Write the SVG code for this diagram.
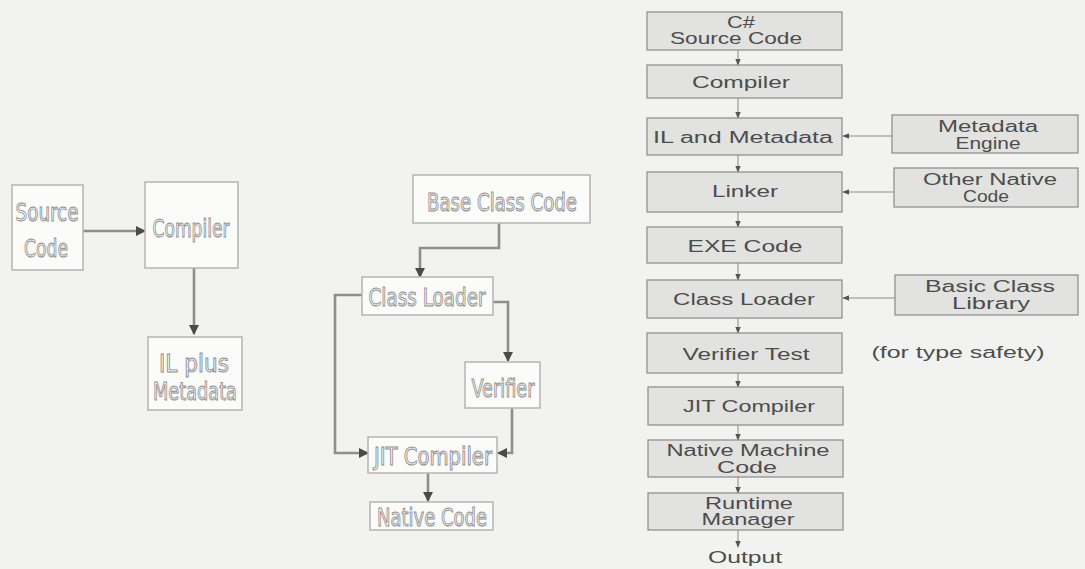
<svg xmlns="http://www.w3.org/2000/svg" width="1085" height="569" viewBox="0 0 1085 569">
<defs>
<style>
.lbox{fill:#fbfbfa;stroke:#b8b8b8;stroke-width:1.6}
.ltxt{font-family:"DejaVu Sans Condensed","Liberation Sans Narrow","DejaVu Sans",sans-serif;font-size:25px;fill:#f7f7f7;stroke:#8c8c8c;stroke-width:0.9;text-anchor:middle}
.rbox{fill:#e2e2e0;stroke:#8a8a8a;stroke-width:1.2}
.rtxt{font-family:"Liberation Sans",Arial,sans-serif;font-size:16px;fill:#4d4d4d;text-anchor:middle}
.lcon{fill:none;stroke:#8e8e8e;stroke-width:2.6}
.rcon{fill:none;stroke:#8a8a8a;stroke-width:1}
</style>
<marker id="la" viewBox="0 0 10 10" refX="9" refY="5" markerWidth="4" markerHeight="4" orient="auto" markerUnits="strokeWidth"><path d="M0,0 L10,5 L0,10 z" fill="#4a4a4a"/></marker>
<marker id="ra" viewBox="0 0 10 10" refX="9" refY="5" markerWidth="7" markerHeight="7" orient="auto" markerUnits="strokeWidth"><path d="M0,1 L10,5 L0,9 z" fill="#555"/></marker>
</defs>
<rect width="1085" height="569" fill="#f2f2f0"/>

<g id="connectors">
<path class="lcon" marker-end="url(#la)" d="M83,231 L145,231"/>
<path class="lcon" marker-end="url(#la)" d="M194,268 L194,334"/>
<path class="lcon" marker-end="url(#la)" d="M499,223 L499,248 L420,248 L420,277"/>
<path class="lcon" marker-end="url(#la)" d="M493,302 L508,302 L508,361"/>
<path class="lcon" marker-end="url(#la)" d="M512,408 L512,453 L498,453"/>
<path class="lcon" marker-end="url(#la)" d="M362,295 L335,295 L335,453 L368,453"/>
<path class="lcon" marker-end="url(#la)" d="M428,473 L428,501"/>
<path class="rcon" marker-end="url(#ra)" d="M738,50 L738,65"/>
<path class="rcon" marker-end="url(#ra)" d="M738,98 L738,118"/>
<path class="rcon" marker-end="url(#ra)" d="M738,155 L738,172"/>
<path class="rcon" marker-end="url(#ra)" d="M738,212 L738,227"/>
<path class="rcon" marker-end="url(#ra)" d="M738,263 L738,280"/>
<path class="rcon" marker-end="url(#ra)" d="M738,318 L738,333"/>
<path class="rcon" marker-end="url(#ra)" d="M738,373 L738,387"/>
<path class="rcon" marker-end="url(#ra)" d="M738,425 L738,440"/>
<path class="rcon" marker-end="url(#ra)" d="M738,477 L738,493"/>
<path class="rcon" marker-end="url(#ra)" d="M738,530 L738,547"/>
<path class="rcon" marker-end="url(#ra)" d="M892,136 L843,136"/>
<path class="rcon" marker-end="url(#ra)" d="M894,192 L843,192"/>
<path class="rcon" marker-end="url(#ra)" d="M895,298 L843,298"/>
</g>

<g id="source-code"><rect class="lbox" x="12" y="185" width="71" height="85"/><text class="ltxt" x="47" y="221" textLength="63" lengthAdjust="spacingAndGlyphs">Source</text><text class="ltxt" x="46" y="257" textLength="44" lengthAdjust="spacingAndGlyphs">Code</text></g>
<g id="compiler-l"><rect class="lbox" x="145" y="182" width="93" height="86"/><text class="ltxt" x="191" y="237" textLength="77" lengthAdjust="spacingAndGlyphs">Compiler</text></g>
<g id="il-plus-metadata"><rect class="lbox" x="148" y="337" width="94" height="73"/><text class="ltxt" x="194" y="372" textLength="70" lengthAdjust="spacingAndGlyphs">IL plus</text><text class="ltxt" x="195" y="400" textLength="84" lengthAdjust="spacingAndGlyphs">Metadata</text></g>

<g id="base-class-code"><rect class="lbox" x="413" y="175" width="177" height="48"/><text class="ltxt" x="502" y="211" textLength="150" lengthAdjust="spacingAndGlyphs">Base Class Code</text></g>
<g id="class-loader-m"><rect class="lbox" x="362" y="277" width="131" height="38"/><text class="ltxt" x="427" y="306" textLength="117" lengthAdjust="spacingAndGlyphs">Class Loader</text></g>
<g id="verifier"><rect class="lbox" x="465" y="362" width="75" height="46"/><text class="ltxt" x="503" y="397" textLength="63" lengthAdjust="spacingAndGlyphs">Verifier</text></g>
<g id="jit-compiler-m"><rect class="lbox" x="368" y="437" width="129" height="36"/><text class="ltxt" x="433" y="465" textLength="118" lengthAdjust="spacingAndGlyphs">JIT Compiler</text></g>
<g id="native-code"><rect class="lbox" x="370" y="502" width="123" height="28"/><text class="ltxt" x="432" y="526" textLength="110" lengthAdjust="spacingAndGlyphs">Native Code</text></g>

<g id="cs-source"><rect class="rbox" x="647" y="12" width="195" height="38"/><text class="rtxt" x="741" y="28" textLength="28" lengthAdjust="spacingAndGlyphs">C#</text><text class="rtxt" x="736" y="44" textLength="132" lengthAdjust="spacingAndGlyphs">Source Code</text></g>
<g id="compiler-r"><rect class="rbox" x="647" y="65" width="195" height="33"/><text class="rtxt" x="741" y="88" textLength="98" lengthAdjust="spacingAndGlyphs">Compiler</text></g>
<g id="il-metadata"><rect class="rbox" x="647" y="118" width="195" height="37"/><text class="rtxt" x="743" y="143" textLength="180" lengthAdjust="spacingAndGlyphs">IL and Metadata</text></g>
<g id="linker"><rect class="rbox" x="647" y="172" width="195" height="40"/><text class="rtxt" x="745" y="197" textLength="66" lengthAdjust="spacingAndGlyphs">Linker</text></g>
<g id="exe-code"><rect class="rbox" x="647" y="227" width="195" height="36"/><text class="rtxt" x="745" y="252" textLength="115" lengthAdjust="spacingAndGlyphs">EXE Code</text></g>
<g id="class-loader-r"><rect class="rbox" x="647" y="280" width="195" height="38"/><text class="rtxt" x="744" y="305" textLength="142" lengthAdjust="spacingAndGlyphs">Class Loader</text></g>
<g id="verifier-test"><rect class="rbox" x="647" y="333" width="195" height="40"/><text class="rtxt" x="746" y="360" textLength="127" lengthAdjust="spacingAndGlyphs">Verifier Test</text></g>
<g id="jit-compiler-r"><rect class="rbox" x="648" y="387" width="195" height="38"/><text class="rtxt" x="749" y="412" textLength="132" lengthAdjust="spacingAndGlyphs">JIT Compiler</text></g>
<g id="native-machine"><rect class="rbox" x="648" y="440" width="195" height="37"/><text class="rtxt" x="748" y="456" textLength="163" lengthAdjust="spacingAndGlyphs">Native Machine</text><text class="rtxt" x="747" y="473" textLength="60" lengthAdjust="spacingAndGlyphs">Code</text></g>
<g id="runtime-manager"><rect class="rbox" x="648" y="493" width="195" height="37"/><text class="rtxt" x="749" y="509" textLength="88" lengthAdjust="spacingAndGlyphs">Runtime</text><text class="rtxt" x="748" y="525" textLength="93" lengthAdjust="spacingAndGlyphs">Manager</text></g>
<g id="output"><text class="rtxt" x="745" y="563" textLength="74" lengthAdjust="spacingAndGlyphs">Output</text></g>
<g id="metadata-engine"><rect class="rbox" x="892" y="115" width="186" height="38"/><text class="rtxt" x="988" y="132" textLength="100" lengthAdjust="spacingAndGlyphs">Metadata</text><text class="rtxt" x="988" y="149" textLength="65" lengthAdjust="spacingAndGlyphs">Engine</text></g>
<g id="other-native"><rect class="rbox" x="894" y="168" width="184" height="39"/><text class="rtxt" x="990" y="185" textLength="134" lengthAdjust="spacingAndGlyphs">Other Native</text><text class="rtxt" x="986" y="202" textLength="46" lengthAdjust="spacingAndGlyphs">Code</text></g>
<g id="basic-class-library"><rect class="rbox" x="895" y="275" width="183" height="40"/><text class="rtxt" x="990" y="292" textLength="130" lengthAdjust="spacingAndGlyphs">Basic Class</text><text class="rtxt" x="991" y="309" textLength="78" lengthAdjust="spacingAndGlyphs">Library</text></g>
<g id="type-safety"><text class="rtxt" x="958" y="358" textLength="173" lengthAdjust="spacingAndGlyphs">(for type safety)</text></g>
</svg>
